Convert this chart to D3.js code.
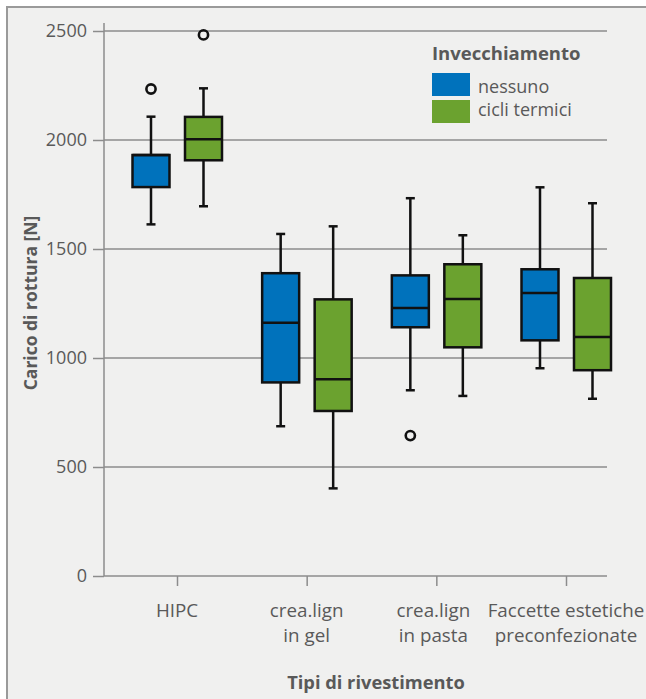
<!DOCTYPE html>
<html>
<head>
<meta charset="utf-8">
<script src="https://cdn.jsdelivr.net/npm/d3@7/dist/d3.min.js"></script>
<style>
  html, body { margin: 0; padding: 0; background: #ffffff; }
  svg { display: block; }
  text { font-family: "Open Sans", "Noto Sans", sans-serif; }
</style>
</head>
<body>
<svg id="chart" width="646" height="699"></svg>
<script>
// ---- data ----
const categories = ["HIPC", "crea.lign in gel", "crea.lign in pasta", "Faccette estetiche preconfezionate"];
const categoryLines = [["HIPC"], ["crea.lign", "in gel"], ["crea.lign", "in pasta"], ["Faccette estetiche", "preconfezionate"]];
const seriesNames = ["nessuno", "cicli termici"];
const seriesColors = ["#0072bc", "#6ba22f"];

const nessunoLow    = [1613, 687, 852, 953];
const nessunoQ1     = [1784, 888, 1141, 1081];
const nessunoMedian = [1931, 1162, 1229, 1298];
const nessunoQ3     = [1931, 1389, 1379, 1407];
const nessunoHigh   = [2107, 1569, 1733, 1783];
const nessunoOut    = [[2234], [], [644], []];

const cicliLow    = [1696, 402, 826, 813];
const cicliQ1     = [1907, 757, 1049, 944];
const cicliMedian = [2003, 902, 1271, 1096];
const cicliQ3     = [2106, 1269, 1430, 1367];
const cicliHigh   = [2237, 1604, 1563, 1710];
const cicliOut    = [[2482], [], [], []];

const yTicks = [0, 500, 1000, 1500, 2000, 2500];
const legendTitle = "Invecchiamento";
const yTitle = "Carico di rottura [N]";
const xTitle = "Tipi di rivestimento";

// ---- build ----
const series = [
  { name: seriesNames[0], color: seriesColors[0], low: nessunoLow, q1: nessunoQ1, med: nessunoMedian, q3: nessunoQ3, high: nessunoHigh, out: nessunoOut, off: -26 },
  { name: seriesNames[1], color: seriesColors[1], low: cicliLow, q1: cicliQ1, med: cicliMedian, q3: cicliQ3, high: cicliHigh, out: cicliOut, off: 26.5 }
];

const svg = d3.select("#chart");
const textCol = "#595959";
const gridCol = "#8c8c8c";

// frame
svg.append("rect").attr("x", 7).attr("y", 7).attr("width", 660).attr("height", 720)
  .attr("fill", "#f0f0ef").attr("stroke", "#9a9a9a").attr("stroke-width", 2);

const y = d3.scaleLinear().domain([0, 2500]).range([576, 31]);
const x = d3.scalePoint().domain(categories).range([177, 566]);
const axisX = 104, gridRight = 607;

// gridlines
svg.append("g").selectAll("line").data(yTicks.filter(d => d > 0)).join("line")
  .attr("x1", axisX).attr("x2", gridRight)
  .attr("y1", d => y(d)).attr("y2", d => y(d))
  .attr("stroke", gridCol).attr("stroke-width", 1.5);

// y axis
const yAxis = d3.axisLeft(y).tickValues(yTicks).tickSize(11).tickPadding(6).tickFormat(d3.format("d"));
const gy = svg.append("g").attr("transform", `translate(${axisX},0)`).call(yAxis);
gy.select(".domain").remove();
gy.selectAll(".tick line").attr("stroke", gridCol).attr("stroke-width", 1.5);
gy.selectAll(".tick text").attr("fill", textCol).style("font-size", "18px")
  .style("font-family", '"Open Sans", sans-serif');
svg.append("line").attr("x1", axisX).attr("x2", axisX).attr("y1", 23).attr("y2", 576)
  .attr("stroke", gridCol).attr("stroke-width", 1.5);

// x axis
const xAxis = d3.axisBottom(x).tickSize(10).tickFormat("");
const gx = svg.append("g").attr("transform", `translate(0,576)`).call(xAxis);
gx.select(".domain").remove();
gx.selectAll(".tick line").attr("stroke", gridCol).attr("stroke-width", 1.5);
svg.append("line").attr("x1", axisX).attr("x2", gridRight).attr("y1", 576).attr("y2", 576)
  .attr("stroke", gridCol).attr("stroke-width", 1.5);

// category labels
categories.forEach((c, i) => {
  const t = svg.append("text").attr("x", x(c)).attr("text-anchor", "middle")
    .attr("fill", textCol).style("font-size", "18.8px");
  categoryLines[i].forEach((ln, j) => {
    t.append("tspan").attr("x", x(c) - (i === 2 ? 3 : 0)).attr("y", 617 + j * 25).text(ln);
  });
});

// boxes
const bw = 37, cap = 9;
series.forEach(s => {
  const g = svg.append("g");
  categories.forEach((c, i) => {
    const cx = x(c) + s.off;
    g.append("line").attr("x1", cx).attr("x2", cx).attr("y1", y(s.high[i])).attr("y2", y(s.q3[i]))
      .attr("stroke", "#111").attr("stroke-width", 2.5);
    g.append("line").attr("x1", cx).attr("x2", cx).attr("y1", y(s.q1[i])).attr("y2", y(s.low[i]))
      .attr("stroke", "#111").attr("stroke-width", 2.5);
    g.append("line").attr("x1", cx - cap / 2).attr("x2", cx + cap / 2).attr("y1", y(s.high[i])).attr("y2", y(s.high[i]))
      .attr("stroke", "#111").attr("stroke-width", 2.5);
    g.append("line").attr("x1", cx - cap / 2).attr("x2", cx + cap / 2).attr("y1", y(s.low[i])).attr("y2", y(s.low[i]))
      .attr("stroke", "#111").attr("stroke-width", 2.5);
    g.append("rect").attr("x", cx - bw / 2).attr("width", bw)
      .attr("y", y(s.q3[i])).attr("height", y(s.q1[i]) - y(s.q3[i]))
      .attr("fill", s.color).attr("stroke", "#111").attr("stroke-width", 2.5);
    g.append("line").attr("x1", cx - bw / 2).attr("x2", cx + bw / 2).attr("y1", y(s.med[i])).attr("y2", y(s.med[i]))
      .attr("stroke", "#111").attr("stroke-width", 2.5);
    s.out[i].forEach(v => {
      g.append("circle").attr("cx", cx).attr("cy", y(v)).attr("r", 4.6)
        .attr("fill", "none").attr("stroke", "#111").attr("stroke-width", 2.6);
    });
  });
});

// legend
svg.append("text").attr("x", 432).attr("y", 60).attr("fill", textCol)
  .style("font-size", "18.5px").style("font-weight", "bold").text(legendTitle);
series.forEach((s, i) => {
  svg.append("rect").attr("x", 432).attr("y", 73 + i * 27).attr("width", 38).attr("height", 23)
    .attr("fill", s.color);
  svg.append("text").attr("x", 478).attr("y", 93 + i * 22.5).attr("fill", textCol)
    .style("font-size", "18px").text(s.name);
});

// axis titles
svg.append("text").attr("transform", "translate(37,303) rotate(-90)").attr("text-anchor", "middle")
  .attr("fill", textCol).style("font-size", "17.5px").style("font-weight", "bold").text(yTitle);
svg.append("text").attr("x", 376).attr("y", 689).attr("text-anchor", "middle")
  .attr("fill", textCol).style("font-size", "18.3px").style("font-weight", "bold").text(xTitle);
</script>
</body>
</html>
